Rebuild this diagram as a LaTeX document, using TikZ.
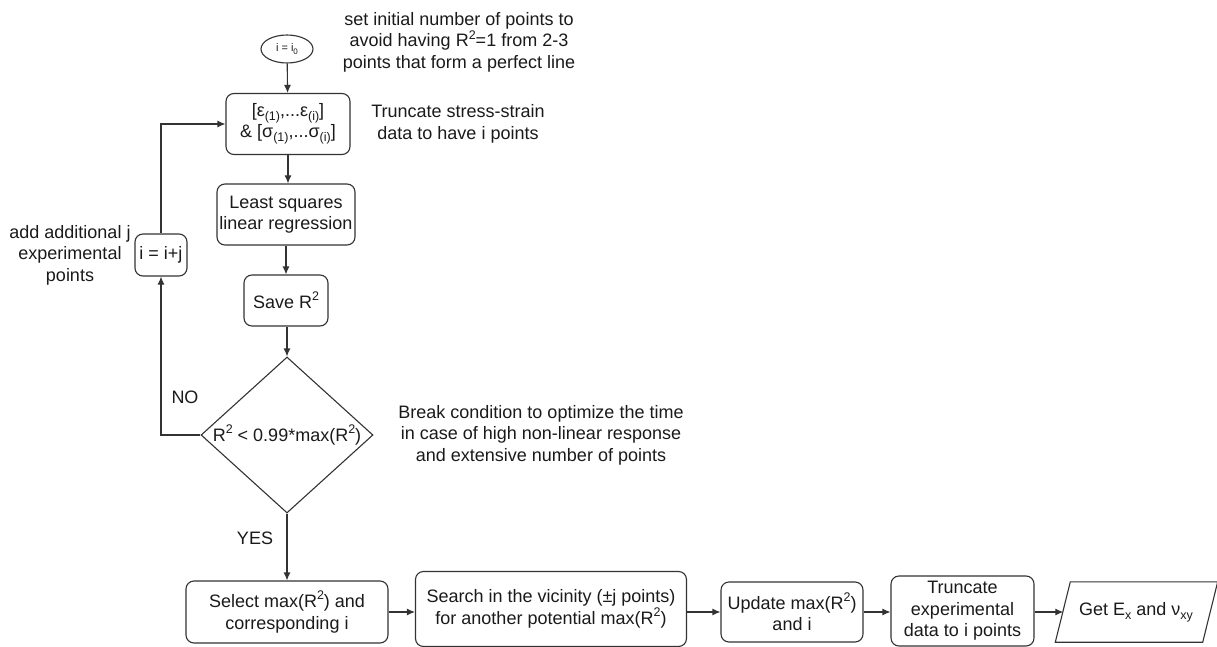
\documentclass[tikz,border=0pt]{standalone}
\usepackage{fontspec}
\setmainfont{Liberation Sans}
\usetikzlibrary{shapes.geometric,arrows.meta}
\definecolor{ln}{HTML}{333333}
\definecolor{tx}{HTML}{1A1A1A}
\newcommand{\mysup}[1]{\raisebox{0.42em}{\fontsize{12.5}{12.5}\selectfont #1}}
\newcommand{\mysub}[1]{\raisebox{-0.22em}{\fontsize{12.5}{12.5}\selectfont #1}}
\newcommand{\mysubsmall}[1]{\raisebox{-0.22em}{\fontsize{8}{8}\selectfont #1}}
\begin{document}
\begin{tikzpicture}[x=1pt,y=-1pt,
  every node/.style={font=\fontsize{18}{21.5}\selectfont, text=tx},
  boxst/.style={draw=ln, line width=1.1pt, rounded corners=8pt, align=center, inner sep=1pt},
  note/.style={align=center, inner sep=0pt},
  arr/.style={draw=ln, line width=1.1pt, -{Latex[length=8pt,width=7pt]}},
  lin/.style={draw=ln, line width=1.1pt}]
\useasboundingbox (0,0) rectangle (1217,647);

\node[draw=ln, line width=1.1pt, ellipse, minimum width=52pt, minimum height=28pt, inner sep=0pt,
  font=\fontsize{11}{13}\selectfont] (start) at (287,49) {i = i\mysubsmall{0}};
\node[boxst, minimum width=124pt, minimum height=61pt] (trunc) at (288,124)
  {[ε\mysub{(1)},...ε\mysub{(i)}]\\ \& [σ\mysub{(1)},...σ\mysub{(i)}]};
\node[boxst, minimum width=138pt, minimum height=61pt] (lsq) at (286,214.5) {Least squares\\linear regression};
\node[boxst, minimum width=84pt, minimum height=51pt] (save) at (286,300.5) {Save R\mysup{2}};
\node[draw=ln, line width=1.1pt, diamond, inner sep=0pt, minimum width=172pt, minimum height=156pt, aspect=1.1] (cond) at (287,435)
  {R\mysup{2} < 0.99*max(R\mysup{2})};
\node[boxst, minimum width=52pt, minimum height=42pt] (inc) at (161,255) {i = i+j};

\node[boxst, minimum width=202pt, minimum height=62pt] (sel) at (287,612) {Select max(R\mysup{2}) and\\corresponding i};
\node[boxst, minimum width=271pt, minimum height=75pt] (search) at (551,609) {Search in the vicinity (±j points)\\for another potential max(R\mysup{2})};
\node[boxst, minimum width=142pt, minimum height=60pt] (upd) at (792,612) {Update max(R\mysup{2})\\and i};
\node[boxst, minimum width=143pt, minimum height=70pt] (trexp) at (962.5,611) {Truncate\\experimental\\data to i points};
\node[minimum width=147pt, minimum height=60pt, inner sep=0pt] (get) at (1136,612) {Get E\mysub{x} and ν\mysub{xy}};
\draw[lin] ([xshift=-7pt]get.south west) -- ([xshift=8pt]get.north west) -- ([xshift=8pt]get.north east) -- ([xshift=-7pt]get.south east) -- cycle;

\node[note] (n1) at (459,42) {set initial number of points to\\avoid having R\mysup{2}=1 from 2-3\\points that form a perfect line};
\node[note] (n2) at (458,124) {Truncate stress-strain\\data to have i points};
\node[note] (n3) at (541,435) {Break condition to optimize the time\\in case of high non-linear response\\and extensive number of points};
\node[note] (n4) at (70,255) {add additional j\\experimental\\points};
\node[note] (no) at (185,397) {NO};
\node[note] (yes) at (255,538) {YES};

\draw[arr] (start) -- (trunc);
\draw[arr] (trunc) -- (trunc.south |- lsq.north);
\draw[arr] (lsq.south -| save.north) -- (save);
\draw[arr] (save.south -| cond.north) -- (cond.north);
\draw[arr] (cond.west) -| (inc.south);
\draw[arr] (inc.north) |- (trunc.west);
\draw[arr] (cond.south) -- (sel.north -| cond.south);
\draw[arr] (sel.east) -- (sel.east -| search.west);
\draw[arr] (search.east |- upd.west) -- (upd.west);
\draw[arr] (upd.east) -- (upd.east -| trexp.west);
\draw[arr] (trexp.east |- get.west) -- ([xshift=1pt]get.west);
\end{tikzpicture}
\end{document}
